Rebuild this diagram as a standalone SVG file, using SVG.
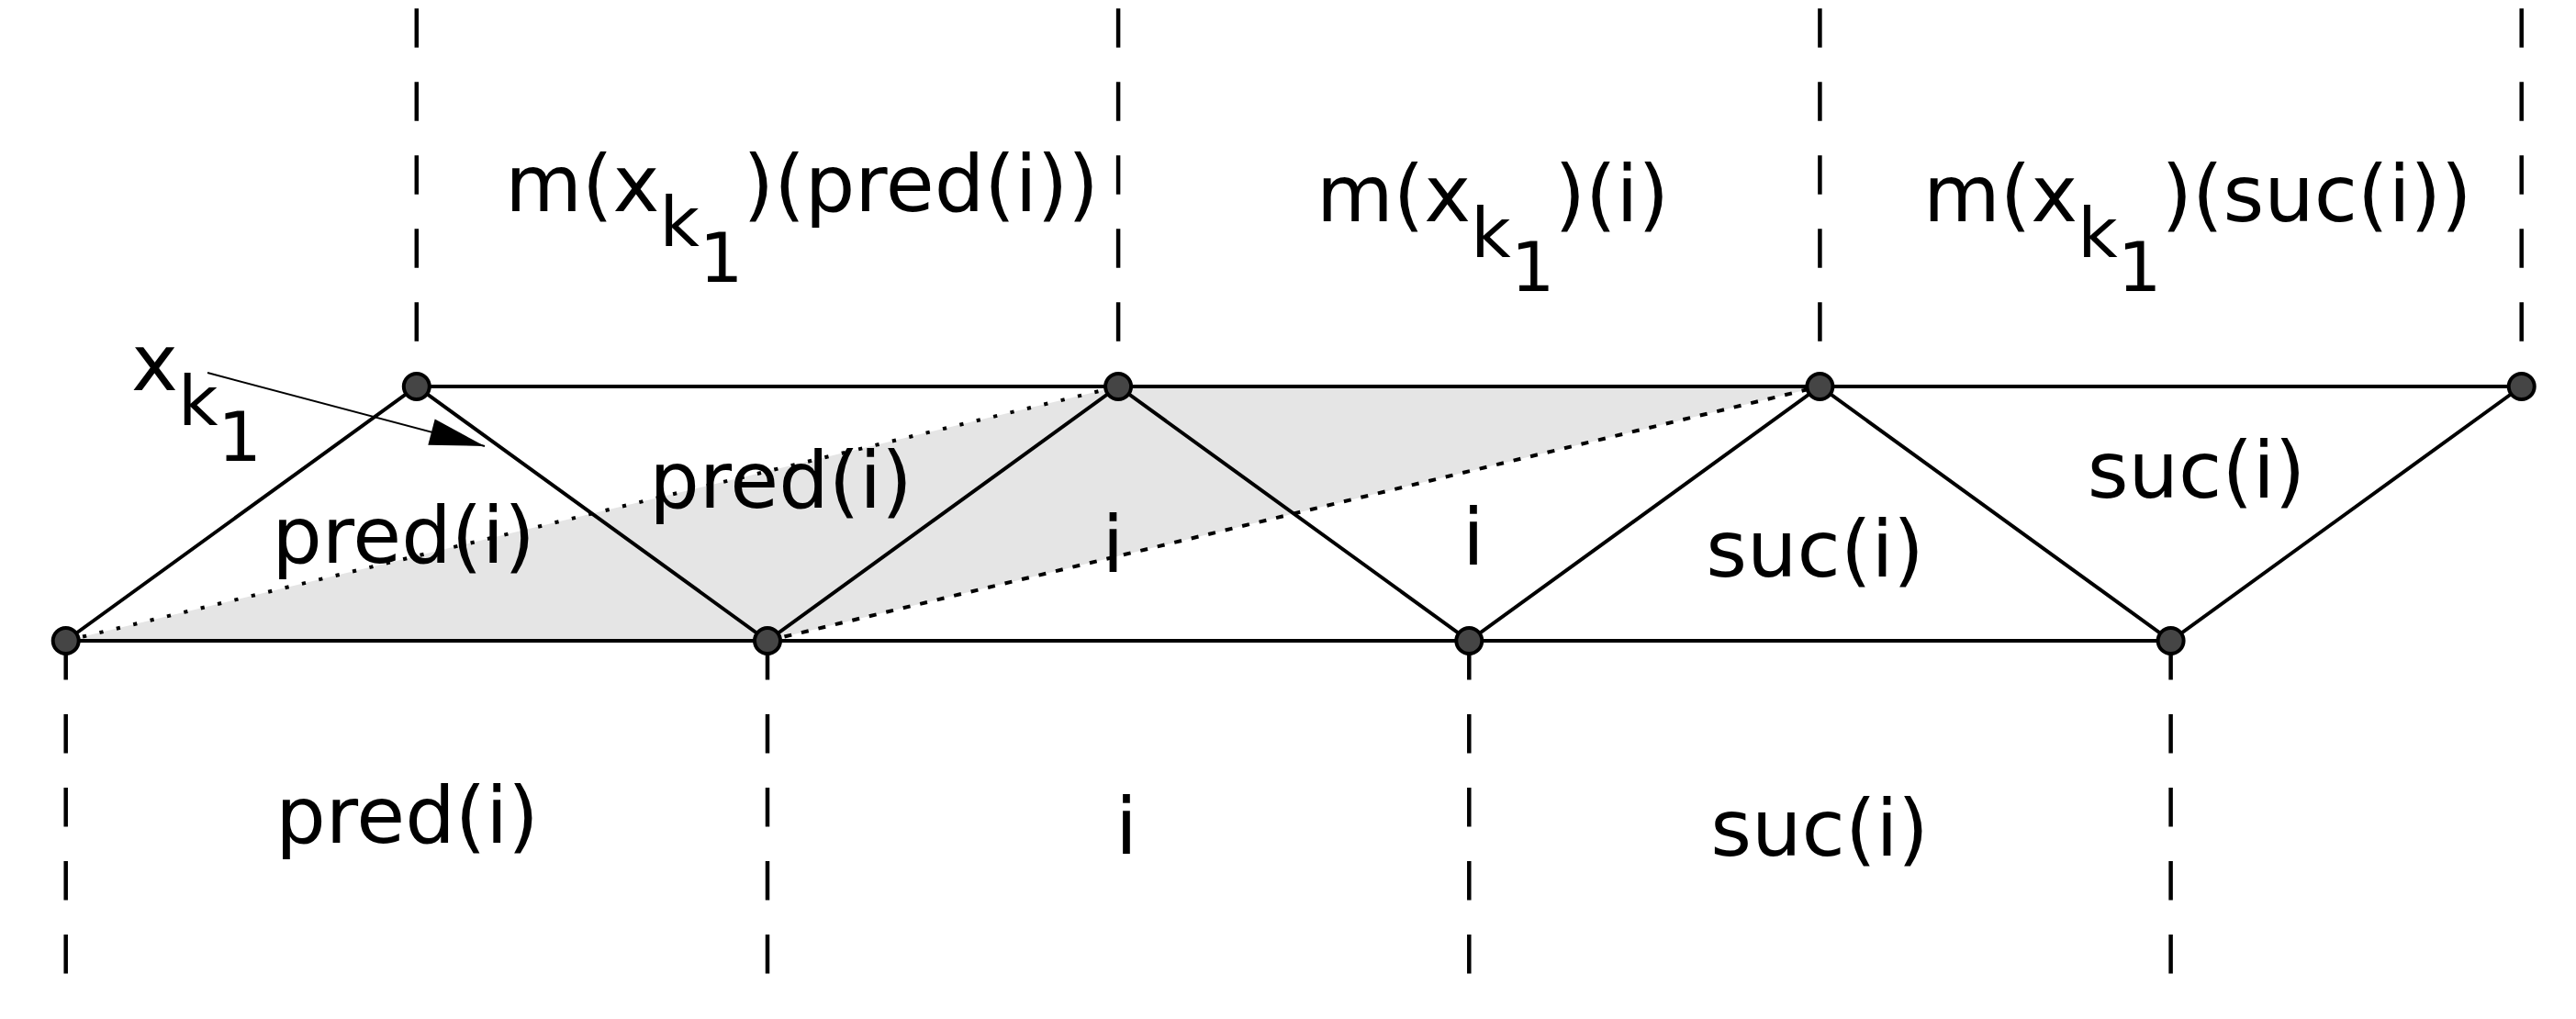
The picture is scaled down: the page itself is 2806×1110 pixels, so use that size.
<svg xmlns="http://www.w3.org/2000/svg" width="2806" height="1110" viewBox="0 0 2806 1110">
  <style>
    .bg { fill: #ffffff; }
    .shade { fill: #e5e5e5; stroke: none; }
    .edge { stroke: #000; stroke-width: 4; fill: none; stroke-linecap: butt; }
    .dot1 { stroke: #000; stroke-width: 4; fill: none; stroke-dasharray: 4.2 14.7; }
    .dot2 { stroke: #000; stroke-width: 4; fill: none; stroke-dasharray: 8 11; }
    .vdash { stroke: #000; stroke-width: 4.5; fill: none; stroke-dasharray: 42.4 37.6; }
    .node { fill: #454545; stroke: #000; stroke-width: 4; }
    .lbl { font-family: "DejaVu Sans", "Noto Sans", sans-serif; font-size: 86px; fill: #000; }
    .sub { font-size: 75px; }
    .ptr { stroke: #000; stroke-width: 2; fill: none; }
  </style>
  <defs>
    <marker id="arrowhead" markerUnits="userSpaceOnUse" markerWidth="80" markerHeight="40" refX="0" refY="0" viewBox="-70 -20 80 40" orient="auto" overflow="visible">
      <path d="M0,0 L-60,-14.5 L-60,14.5 Z" fill="#000"/>
    </marker>
  </defs>
  <rect class="bg" x="0" y="0" width="2806" height="1110"/>

  <g id="shading">
    <polygon class="shade" points="71.7,698 836,698 1982.4,421 1218.1,421"/>
  </g>

  <g id="connectors">
    <line class="dot1" x1="71.7" y1="698" x2="1218.1" y2="421"/>
    <line class="dot2" x1="836" y1="698" x2="1982.4" y2="421"/>
    <line class="edge" x1="453.8" y1="421" x2="2746.7" y2="421"/>
    <line class="edge" x1="71.7" y1="698" x2="2364.6" y2="698"/>
    <polyline class="edge" points="71.7,698 453.8,421 836,698 1218.1,421 1600.3,698 1982.4,421 2364.6,698 2746.7,421"/>
    <line class="vdash" x1="453.8" y1="9.3" x2="453.8" y2="421"/>
    <line class="vdash" x1="1218.1" y1="9.3" x2="1218.1" y2="421"/>
    <line class="vdash" x1="1982.4" y1="9.3" x2="1982.4" y2="421"/>
    <line class="vdash" x1="2746.7" y1="9.3" x2="2746.7" y2="421"/>
    <line class="vdash" x1="71.7" y1="698" x2="71.7" y2="1062"/>
    <line class="vdash" x1="836" y1="698" x2="836" y2="1062"/>
    <line class="vdash" x1="1600.3" y1="698" x2="1600.3" y2="1062"/>
    <line class="vdash" x1="2364.6" y1="698" x2="2364.6" y2="1062"/>
    <line class="ptr" x1="226" y1="406" x2="528" y2="486" marker-end="url(#arrowhead)"/>
  </g>

  <g id="node-t0"><circle class="node" cx="453.8" cy="421" r="14"/></g>
  <g id="node-t1"><circle class="node" cx="1218.1" cy="421" r="14"/></g>
  <g id="node-t2"><circle class="node" cx="1982.4" cy="421" r="14"/></g>
  <g id="node-t3"><circle class="node" cx="2746.7" cy="421" r="14"/></g>
  <g id="node-b0"><circle class="node" cx="71.7" cy="698" r="14"/></g>
  <g id="node-b1"><circle class="node" cx="836" cy="698" r="14"/></g>
  <g id="node-b2"><circle class="node" cx="1600.3" cy="698" r="14"/></g>
  <g id="node-b3"><circle class="node" cx="2364.6" cy="698" r="14"/></g>

  <g id="labels">
    <text class="lbl" x="143" y="425">x<tspan class="sub" dy="38">k</tspan><tspan class="sub" dy="39">1</tspan></text>
    <text class="lbl" x="550.2" y="230">m(x<tspan class="sub" dy="38">k</tspan><tspan class="sub" dy="39">1</tspan><tspan dy="-77">)(pred(i))</tspan></text>
    <text class="lbl" x="1434" y="241">m(x<tspan class="sub" dy="39">k</tspan><tspan class="sub" dy="37">1</tspan><tspan dy="-76">)(i)</tspan></text>
    <text class="lbl" x="2095" y="241">m(x<tspan class="sub" dy="39">k</tspan><tspan class="sub" dy="37">1</tspan><tspan dy="-76">)(suc(i))</tspan></text>

    <text class="lbl" x="296.2" y="613">pred(i)</text>
    <text class="lbl" x="707.2" y="553">pred(i)</text>
    <text class="lbl" x="1212.5" y="623" text-anchor="middle">i</text>
    <text class="lbl" x="1605" y="615" text-anchor="middle">i</text>
    <text class="lbl" x="1858.3" y="628">suc(i)</text>
    <text class="lbl" x="2273.8" y="542">suc(i)</text>

    <text class="lbl" x="300.2" y="918">pred(i)</text>
    <text class="lbl" x="1227" y="930" text-anchor="middle">i</text>
    <text class="lbl" x="1863.3" y="932">suc(i)</text>
  </g>
</svg>
